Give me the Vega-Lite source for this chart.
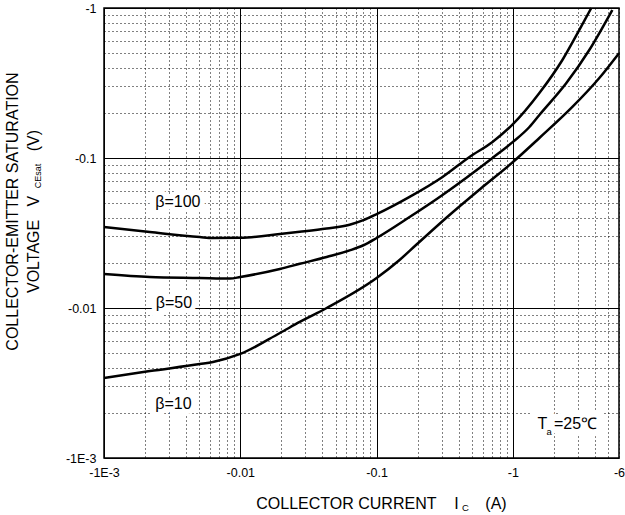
{
  "$schema": "https://vega.github.io/schema/vega-lite/v6.json",
  "width": 515,
  "height": 450,
  "autosize": "none",
  "padding": {"left": 104, "top": 8, "right": 6, "bottom": 57},
  "background": "white",
  "config": {
    "view": {"stroke": "#000", "strokeWidth": 1.5},
    "font": "Liberation Sans",
    "text": {"font": "Liberation Sans"}
  },
  "datasets": {
    "curves": [
      {"beta": "100", "ic": 0.001, "vce": 0.0347},
      {"beta": "100", "ic": 0.00217, "vce": 0.0321},
      {"beta": "100", "ic": 0.00505, "vce": 0.0297},
      {"beta": "100", "ic": 0.0063, "vce": 0.0293},
      {"beta": "100", "ic": 0.01, "vce": 0.0294},
      {"beta": "100", "ic": 0.0195, "vce": 0.0311},
      {"beta": "100", "ic": 0.0273, "vce": 0.0322},
      {"beta": "100", "ic": 0.043, "vce": 0.0339},
      {"beta": "100", "ic": 0.0634, "vce": 0.0359},
      {"beta": "100", "ic": 0.08, "vce": 0.0385},
      {"beta": "100", "ic": 0.1, "vce": 0.0422},
      {"beta": "100", "ic": 0.1745, "vce": 0.055},
      {"beta": "100", "ic": 0.3045, "vce": 0.0747},
      {"beta": "100", "ic": 0.48, "vce": 0.1016},
      {"beta": "100", "ic": 0.708, "vce": 0.128},
      {"beta": "100", "ic": 1.0, "vce": 0.168},
      {"beta": "100", "ic": 1.563, "vce": 0.271},
      {"beta": "100", "ic": 2.306, "vce": 0.45},
      {"beta": "100", "ic": 3.071, "vce": 0.714},
      {"beta": "100", "ic": 3.757, "vce": 1.0},
      {"beta": "50", "ic": 0.001, "vce": 0.01686},
      {"beta": "50", "ic": 0.00217, "vce": 0.0161},
      {"beta": "50", "ic": 0.00505, "vce": 0.01585},
      {"beta": "50", "ic": 0.0084, "vce": 0.0157},
      {"beta": "50", "ic": 0.01, "vce": 0.0161},
      {"beta": "50", "ic": 0.0195, "vce": 0.0182},
      {"beta": "50", "ic": 0.0273, "vce": 0.0197},
      {"beta": "50", "ic": 0.043, "vce": 0.0219},
      {"beta": "50", "ic": 0.0634, "vce": 0.0242},
      {"beta": "50", "ic": 0.08, "vce": 0.0262},
      {"beta": "50", "ic": 0.1, "vce": 0.0293},
      {"beta": "50", "ic": 0.1745, "vce": 0.0404},
      {"beta": "50", "ic": 0.3045, "vce": 0.0567},
      {"beta": "50", "ic": 0.708, "vce": 0.1},
      {"beta": "50", "ic": 1.0, "vce": 0.128},
      {"beta": "50", "ic": 1.321, "vce": 0.161},
      {"beta": "50", "ic": 1.563, "vce": 0.1935},
      {"beta": "50", "ic": 2.466, "vce": 0.316},
      {"beta": "50", "ic": 3.632, "vce": 0.525},
      {"beta": "50", "ic": 5.358, "vce": 0.97},
      {"beta": "10", "ic": 0.001, "vce": 0.003415},
      {"beta": "10", "ic": 0.00217, "vce": 0.0038},
      {"beta": "10", "ic": 0.00505, "vce": 0.00423},
      {"beta": "10", "ic": 0.0063, "vce": 0.00437},
      {"beta": "10", "ic": 0.01, "vce": 0.00494},
      {"beta": "10", "ic": 0.0195, "vce": 0.00681},
      {"beta": "10", "ic": 0.0273, "vce": 0.00807},
      {"beta": "10", "ic": 0.043, "vce": 0.01},
      {"beta": "10", "ic": 0.1, "vce": 0.01585},
      {"beta": "10", "ic": 0.1473, "vce": 0.0209},
      {"beta": "10", "ic": 0.1963, "vce": 0.0265},
      {"beta": "10", "ic": 0.3425, "vce": 0.0417},
      {"beta": "10", "ic": 0.598, "vce": 0.064},
      {"beta": "10", "ic": 1.0, "vce": 0.094},
      {"beta": "10", "ic": 1.563, "vce": 0.136},
      {"beta": "10", "ic": 2.729, "vce": 0.219},
      {"beta": "10", "ic": 4.303, "vce": 0.3415},
      {"beta": "10", "ic": 6.0, "vce": 0.5}
    ],
    "notes": [
      {"role": "main", "label": "β=100", "ic": 0.00348, "vce": 0.0509},
      {"role": "main", "label": "β=50", "ic": 0.00326, "vce": 0.0108},
      {"role": "main", "label": "β=10", "ic": 0.00323, "vce": 0.00229},
      {"role": "left", "label": "T", "ic": 1.512, "vce": 0.00169},
      {"role": "left", "label": "=25℃", "ic": 2.0, "vce": 0.00169},
      {"role": "sub", "label": "a", "ic": 1.84, "vce": 0.00148},
      {"role": "subx", "label": "C", "ic": 0.449, "vce": 0.000464},
      {"role": "suby", "label": "CEsat", "ic": 0.000328, "vce": 0.0759}
    ]
  },
  "encoding": {
    "x": {
      "field": "ic",
      "type": "quantitative",
      "scale": {"type": "log", "domain": [0.001, 6], "nice": false},
      "axis": {
        "values": [0.001, 0.002, 0.003, 0.004, 0.005, 0.006, 0.007, 0.008, 0.009, 0.01, 0.02, 0.03, 0.04, 0.05, 0.06, 0.07, 0.08, 0.09, 0.1, 0.2, 0.3, 0.4, 0.5, 0.6, 0.7, 0.8, 0.9, 1, 2, 3, 4, 5, 6],
        "labelExpr": "datum.value == 0.001 ? '-1E-3' : datum.value == 0.01 ? '-0.01' : datum.value == 0.1 ? '-0.1' : datum.value == 1 ? '-1' : datum.value == 6 ? '-6' : ''",
        "ticks": false,
        "domain": false,
        "grid": true,
        "gridColor": "#000",
        "gridOpacity": 1,
        "gridWidth": 1,
        "gridDash": {"condition": {"test": "datum.value == 0.001 || datum.value == 0.01 || datum.value == 0.1 || datum.value == 1", "value": []}, "value": [1, 3]},
        "labelFont": "Liberation Sans",
        "labelFontSize": 12.5,
        "labelColor": "#000",
        "labelPadding": 8,
        "labelOverlap": false,
        "labelBound": false,
        "labelFlush": false,
        "title": "COLLECTOR CURRENT\u00a0\u00a0\u00a0\u00a0I\u00a0\u00a0\u00a0\u00a0\u00a0\u00a0(A)",
        "titleFont": "Liberation Sans",
        "titleFontSize": 16,
        "titleFontWeight": "normal",
        "titleColor": "#000",
        "titleX": 277,
        "titleY": 50,
        "titleAlign": "center",
        "titleBaseline": "alphabetic"
      }
    },
    "y": {
      "field": "vce",
      "type": "quantitative",
      "scale": {"type": "log", "domain": [0.001, 1], "nice": false},
      "axis": {
        "values": [0.001, 0.002, 0.003, 0.004, 0.005, 0.006, 0.007, 0.008, 0.009, 0.01, 0.02, 0.03, 0.04, 0.05, 0.06, 0.07, 0.08, 0.09, 0.1, 0.2, 0.3, 0.4, 0.5, 0.6, 0.7, 0.8, 0.9, 1],
        "labelExpr": "datum.value == 0.001 ? '-1E-3' : datum.value == 0.01 ? '-0.01' : datum.value == 0.1 ? '-0.1' : datum.value == 1 ? '-1' : ''",
        "ticks": false,
        "domain": false,
        "grid": true,
        "gridColor": "#000",
        "gridOpacity": 1,
        "gridWidth": 1,
        "gridDash": {"condition": {"test": "datum.value == 0.001 || datum.value == 0.01 || datum.value == 0.1 || datum.value == 1", "value": []}, "value": [1, 3]},
        "labelFont": "Liberation Sans",
        "labelFontSize": 12.5,
        "labelColor": "#000",
        "labelPadding": 8,
        "labelOverlap": false,
        "labelBound": false,
        "labelFlush": false,
        "title": ["COLLECTOR-EMITTER SATURATION", "VOLTAGE\u00a0\u00a0\u00a0V\u00a0\u00a0\u00a0\u00a0\u00a0\u00a0\u00a0\u00a0\u00a0\u00a0(V)"],
        "titleFont": "Liberation Sans",
        "titleFontSize": 16,
        "titleFontWeight": "normal",
        "titleColor": "#000",
        "titleAngle": 270,
        "titleX": -100,
        "titleY": 203,
        "titleAlign": "center",
        "titleBaseline": "top",
        "titleLineHeight": 21
      }
    }
  },
  "layer": [
    {
      "data": {"name": "curves"},
      "mark": {"type": "line", "color": "#000", "strokeWidth": 2.5, "interpolate": "monotone"},
      "encoding": {"detail": {"field": "beta", "type": "nominal"}}
    },
    {
      "data": {"name": "notes"},
      "transform": [{"filter": "datum.role == 'main'"}],
      "mark": {"type": "text", "fontSize": 16, "align": "center", "baseline": "middle", "fill": "#fff", "stroke": "#fff", "strokeWidth": 10},
      "encoding": {"text": {"field": "label"}}
    },
    {
      "data": {"name": "notes"},
      "transform": [{"filter": "datum.role == 'left'"}],
      "mark": {"type": "text", "fontSize": 16, "align": "left", "baseline": "middle", "fill": "#fff", "stroke": "#fff", "strokeWidth": 14},
      "encoding": {"text": {"field": "label"}}
    },
    {
      "data": {"name": "notes"},
      "transform": [{"filter": "datum.role == 'main'"}],
      "mark": {"type": "text", "fontSize": 16, "align": "center", "baseline": "middle", "color": "#000"},
      "encoding": {"text": {"field": "label"}}
    },
    {
      "data": {"name": "notes"},
      "transform": [{"filter": "datum.role == 'left'"}],
      "mark": {"type": "text", "fontSize": 16, "align": "left", "baseline": "middle", "color": "#000"},
      "encoding": {"text": {"field": "label"}}
    },
    {
      "data": {"name": "notes"},
      "transform": [{"filter": "datum.role == 'sub' || datum.role == 'subx'"}],
      "mark": {"type": "text", "fontSize": 9.5, "align": "center", "baseline": "middle", "color": "#000"},
      "encoding": {"text": {"field": "label"}}
    },
    {
      "data": {"name": "notes"},
      "transform": [{"filter": "datum.role == 'suby'"}],
      "mark": {"type": "text", "fontSize": 9, "align": "center", "baseline": "middle", "angle": 270, "color": "#000"},
      "encoding": {"text": {"field": "label"}}
    }
  ]
}
